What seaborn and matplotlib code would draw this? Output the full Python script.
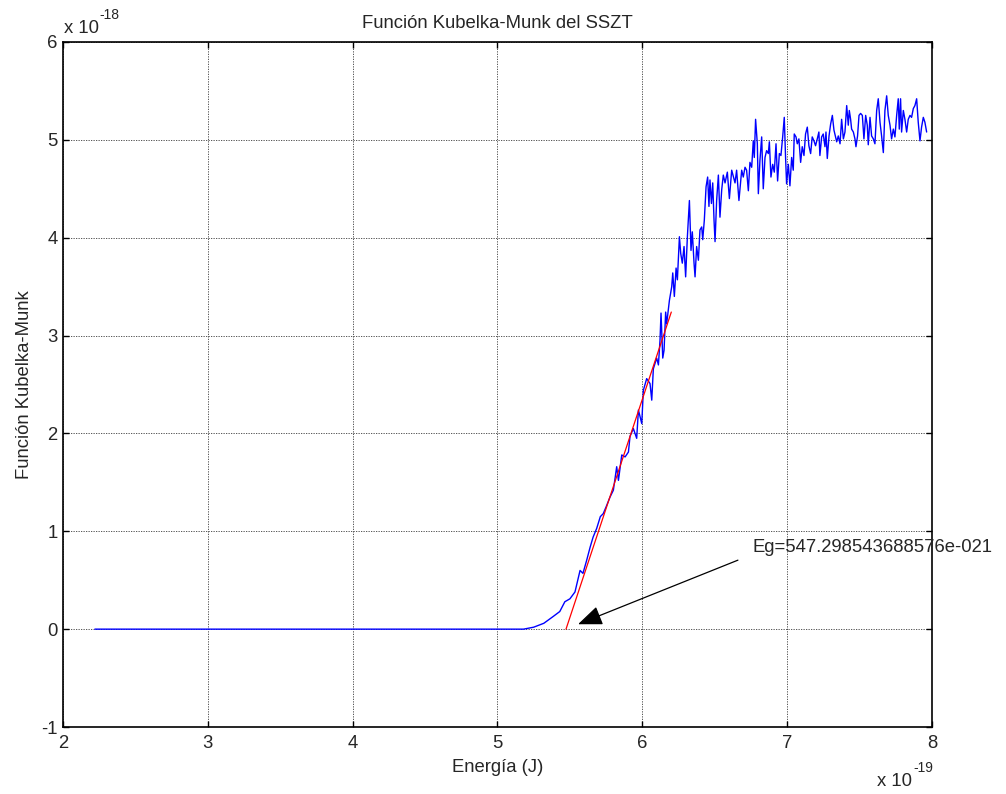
import numpy as np
import pandas as pd
import seaborn as sns
import matplotlib
matplotlib.use("Agg")
import matplotlib.pyplot as plt

# Photon energy (units of 1e-19 J) and Kubelka-Munk function (units of 1e-18)
energy = [
    2.22, 3.00, 4.00, 5.00, 5.18,
    5.25, 5.32, 5.385, 5.43, 5.465, 5.50, 5.535, 5.57, 5.59, 5.615, 5.64, 5.66,
    5.685, 5.71, 5.73, 5.75,
    5.777, 5.800, 5.823, 5.835, 5.858, 5.881, 5.904, 5.915, 5.938, 5.961, 5.973,
    5.996, 6.007, 6.030, 6.053, 6.065, 6.076, 6.099, 6.111, 6.122, 6.129, 6.141,
    6.150, 6.161, 6.168, 6.187,
    6.203, 6.210, 6.221, 6.233, 6.242, 6.256, 6.265, 6.276, 6.288, 6.299, 6.311,
    6.325, 6.336, 6.345, 6.357, 6.364, 6.375, 6.387, 6.398, 6.410, 6.417, 6.428,
    6.440, 6.451, 6.460, 6.467, 6.477, 6.486, 6.495, 6.502, 6.513, 6.525, 6.536,
    6.548, 6.559, 6.571, 6.587, 6.601, 6.617, 6.640, 6.651, 6.667,
    6.686, 6.697, 6.709, 6.720, 6.732, 6.743, 6.755, 6.766, 6.773, 6.782, 6.794,
    6.801, 6.812, 6.824, 6.835, 6.847, 6.858, 6.870, 6.877, 6.888, 6.900, 6.911,
    6.923, 6.934, 6.946, 6.957, 6.969, 6.980, 6.989, 6.996, 7.008, 7.019, 7.031,
    7.042, 7.049, 7.061, 7.070, 7.081, 7.093, 7.104, 7.116, 7.127, 7.139, 7.150,
    7.162, 7.173, 7.185, 7.196, 7.208, 7.219, 7.226, 7.238, 7.249, 7.261, 7.268,
    7.277, 7.289, 7.300, 7.312, 7.323,
    7.342, 7.353, 7.365, 7.376, 7.388, 7.399, 7.411, 7.422, 7.429, 7.438, 7.445,
    7.457, 7.468, 7.475, 7.486, 7.496, 7.507, 7.519, 7.530, 7.542, 7.553, 7.560,
    7.572, 7.583, 7.595, 7.606, 7.618, 7.629, 7.641, 7.652, 7.664, 7.675, 7.687,
    7.698, 7.710, 7.721, 7.733, 7.744, 7.756, 7.767, 7.774, 7.783, 7.790, 7.802,
    7.813, 7.825, 7.836, 7.848, 7.859, 7.871, 7.882, 7.894, 7.905, 7.917, 7.928,
    7.940, 7.951, 7.963,
]
km = [
    0.0, 0.0, 0.0, 0.0, 0.0,
    0.02, 0.06, 0.13, 0.18, 0.28, 0.31, 0.38, 0.60, 0.57, 0.70, 0.84, 0.94,
    1.03, 1.15, 1.18, 1.25,
    1.35, 1.42, 1.66, 1.52, 1.78, 1.76, 1.81, 1.97, 2.05, 1.95, 2.24,
    2.10, 2.44, 2.56, 2.51, 2.34, 2.66, 2.77, 2.70, 2.95, 3.23, 2.77,
    2.85, 3.24, 3.12, 3.36,
    3.50, 3.64, 3.40, 3.69, 3.57, 4.01, 3.84, 3.74, 3.91, 3.60, 4.01,
    4.38, 3.87, 4.06, 3.74, 3.60, 3.91, 3.77, 4.08, 4.11, 3.98, 4.18,
    4.52, 4.62, 4.32, 4.59, 4.35, 4.56, 4.18, 3.96, 4.38, 4.64, 4.21,
    4.49, 4.64, 4.56, 4.67, 4.40, 4.69, 4.56, 4.69, 4.38,
    4.69, 4.62, 4.72, 4.69, 4.48, 4.77, 4.72, 4.99, 4.82, 5.21, 4.96,
    4.45, 4.79, 5.03, 4.50, 4.82, 4.89, 4.86, 4.98, 4.62, 4.75, 4.67,
    4.96, 4.58, 4.86, 4.84, 5.03, 5.23, 4.82, 4.55, 4.75, 4.53, 4.82,
    4.69, 5.06, 5.03, 4.96, 5.01, 4.77, 4.93, 4.84, 5.06, 5.13, 4.94,
    4.86, 5.03, 4.99, 4.94, 5.01, 5.08, 4.84, 5.03, 5.06, 4.93, 5.08,
    4.81, 5.04, 5.16, 5.25, 5.10,
    4.98, 5.04, 4.96, 5.21, 5.01, 5.08, 5.35, 5.15, 5.30, 5.21, 5.11,
    5.08, 5.01, 4.93, 5.04, 5.25, 5.27, 5.25, 5.01, 5.25, 5.15, 4.95,
    5.23, 5.04, 5.01, 4.96, 5.30, 5.42, 5.18, 5.04, 4.87, 5.30, 5.45,
    5.25, 5.15, 5.01, 5.11, 5.03, 5.25, 5.42, 5.11, 5.42, 5.08, 5.30,
    5.21, 5.08, 5.21, 5.25, 5.23, 5.32, 5.35, 5.42, 5.18, 4.99, 5.13,
    5.23, 5.18, 5.08,
]

# Linear fit of the absorption edge: root at Eg, drawn up to fit_end
eg_joules = 547.298543688576e-021
fit_slope = 4.457          # (1e-18) per (1e-19 J)
fit_end = 6.20             # 1e-19 J
eg_label = "Eg=547.298543688576e-021"

x_ticks = [2, 3, 4, 5, 6, 7, 8]
y_ticks = [-1, 0, 1, 2, 3, 4, 5, 6]

FS = 13.3

sns.set_theme(style="white")
plt.rcParams["font.family"] = ["Liberation Sans", "DejaVu Sans"]
plt.rcParams["font.size"] = FS

W, H = 1006, 794
fig = plt.figure(figsize=(W / 100, H / 100), dpi=100)
fig.patch.set_facecolor("white")
ax = fig.add_axes([63 / W, 1 - 727 / H, (932 - 63) / W, (727 - 42) / H])
ax.set_facecolor("white")

df = pd.DataFrame({"E": energy, "F": km})
sns.lineplot(data=df, x="E", y="F", ax=ax, color=(0, 0, 1), lw=1.0,
             estimator=None, sort=False)

eg = eg_joules / 1e-19
fit_x = np.array([eg, fit_end])
fit_df = pd.DataFrame({"E": fit_x, "F": fit_slope * (fit_x - eg)})
sns.lineplot(data=fit_df, x="E", y="F", ax=ax, color=(1, 0, 0), lw=0.9,
             estimator=None, sort=False)

ax.annotate("", xy=(eg + 0.083, 0.05), xytext=(6.66, 0.705),
            arrowprops=dict(arrowstyle="-|>,head_length=0.75,head_width=0.3",
                            mutation_scale=20, color="black", lw=0.9,
                            shrinkA=0, shrinkB=0))
ax.text(6.764, 0.787, eg_label, fontsize=FS, ha="left", va="baseline")

ax.set_xlim(2, 8)
ax.set_ylim(-1, 6)
ax.set_xticks(x_ticks)
ax.set_yticks(y_ticks)
ax.set_xticklabels([str(t) for t in x_ticks])
ax.set_yticklabels([str(t) for t in y_ticks])

ax.grid(True, color="#3a3a3a", linestyle=(0, (1.5, 1.5)), linewidth=0.6)
ax.set_axisbelow(True)
for s in ax.spines.values():
    s.set_visible(True)
    s.set_color("black")
    s.set_linewidth(1.2)
ax.tick_params(axis="both", which="major", direction="in", length=4, width=1,
               color="black", labelsize=FS, top=True, right=True,
               bottom=True, left=True)
ax.tick_params(axis="x", pad=6)
ax.tick_params(axis="y", pad=4)

ax.set_title("Función Kubelka-Munk del SSZT", fontsize=FS, pad=10)
ax.set_xlabel("Energía (J)", fontsize=FS, labelpad=5)
ax.set_ylabel("Función Kubelka-Munk", fontsize=FS, labelpad=6)

# Exponent multipliers for both axes
fig.text(64 / W, 1 - 33 / H, "x 10", fontsize=FS, ha="left", va="baseline")
fig.text(99 / W, 1 - 19 / H, "-18", fontsize=10, ha="left", va="baseline")
fig.text(877 / W, 1 - 786 / H, "x 10", fontsize=FS, ha="left", va="baseline")
fig.text(913 / W, 1 - 772 / H, "-19", fontsize=10, ha="left", va="baseline")

fig.savefig("out.png", dpi=100, facecolor="white")
